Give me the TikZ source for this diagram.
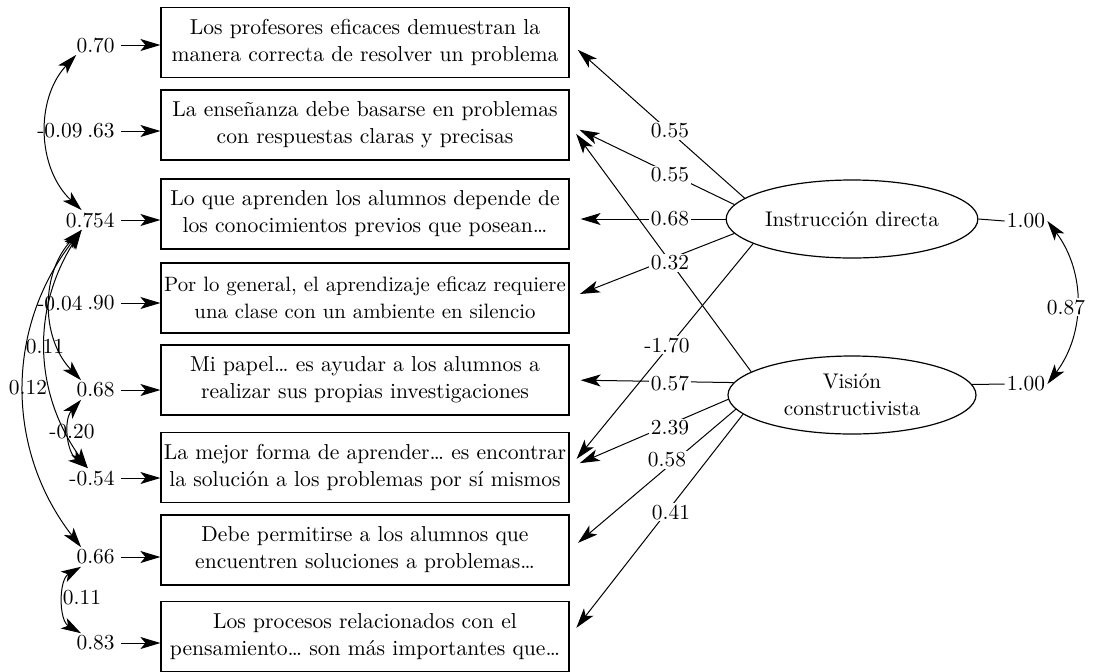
\documentclass[tikz,border=0pt]{standalone}
\usepackage{fontspec}
\usepackage{tikz}
\usetikzlibrary{
  arrows.meta,
  shapes.geometric,
  positioning
}
\tikzset{
  indic/.style={
    draw, line width=0.6pt, minimum width=204pt, minimum height=35pt,
    inner sep=1pt, align=center, font=\fontsize{10.8}{13.5}\selectfont
  },
  latent/.style={
    draw, ellipse, line width=0.6pt, minimum width=124pt, minimum height=39pt,
    inner sep=1pt, align=center, font=\fontsize{10.6}{13.5}\selectfont
  },
  errlbl/.style={font=\fontsize{10.7}{12}\selectfont, inner sep=1pt},
  coef/.style={errlbl, fill=white},
  load/.style={-{Stealth[length=10pt, width=6pt, inset=2.5pt]}, line width=0.5pt, shorten >=5.5pt},
  errarrow/.style={-{Stealth[length=10pt, width=6pt, inset=2.5pt]}, line width=0.5pt, shorten <=2pt},
  cov/.style={{Stealth[length=10pt, width=6pt, inset=2.5pt]}-{Stealth[length=10pt, width=6pt, inset=2.5pt]}, line width=0.5pt},
  varline/.style={line width=0.5pt}
}

\begin{document}
\begin{tikzpicture}[x=0.5pt, y=-0.5pt]
  \useasboundingbox (0,0) rectangle (1097,671);
  % items
  \node[indic] (b1) at (365,42.5) {Los profesores eficaces demuestran la\\manera correcta de resolver un problema};
  \node[indic] (b2) at (365,125) {La enseñanza debe basarse en problemas\\con respuestas claras y precisas};
  \node[indic] (b3) at (365,214) {Lo que aprenden los alumnos depende de\\los conocimientos previos que posean…};
  \node[indic, font=\fontsize{10.4}{13.5}\selectfont] (b4) at (365,298) {Por lo general, el aprendizaje eficaz requiere\\una clase con un ambiente en silencio};
  \node[indic] (b5) at (365,380) {Mi papel… es ayudar a los alumnos a\\realizar sus propias investigaciones};
  \node[indic] (b6) at (365,467.5) {La mejor forma de aprender… es encontrar\\la solución a los problemas por sí mismos};
  \node[indic] (b7) at (365,550) {Debe permitirse a los alumnos que\\encuentren soluciones a problemas…};
  \node[indic] (b8) at (365,636.5) {Los procesos relacionados con el\\pensamiento… son más importantes que…};
  % factors
  \node[latent] (ID) at (852,219) {Instrucción directa};
  \node[latent] (VC) at (852,395) {Visión\\constructivista};
  % error variances
  \node[errlbl, anchor=east] (e1) at (117,45) {0.70};
  \node[errlbl, anchor=east] (e2) at (117,131) {.63};
  \node[errlbl, anchor=east] (e3) at (117,220) {0.754};
  \node[errlbl, anchor=east] (e4) at (117,303) {.90};
  \node[errlbl, anchor=east] (e5) at (117,390) {0.68};
  \node[errlbl, anchor=east] (e6) at (117,478) {-0.54};
  \node[errlbl, anchor=east] (e7) at (117,557) {0.66};
  \node[errlbl, anchor=east] (e8) at (117,643) {0.83};
  \draw[errarrow] (e1) -- (e1 -| b1.west);
  \draw[errarrow] (e2) -- (e2 -| b2.west);
  \draw[errarrow] (e3) -- (e3 -| b3.west);
  \draw[errarrow] (e4) -- (e4 -| b4.west);
  \draw[errarrow] (e5) -- (e5 -| b5.west);
  \draw[errarrow] (e6) -- (e6 -| b6.west);
  \draw[errarrow] (e7) -- (e7 -| b7.west);
  \draw[errarrow] (e8) -- (e8 -| b8.west);
  % error covariances
  \node[errlbl, left=0pt of e2] (c1) {-0.09};
  \node[errlbl, left=0pt of e4] (c2) {-0.04};
  \node[errlbl] (c3) at (45,347) {0.11};
  \node[errlbl] (c4) at (28,388) {0.12};
  \node[errlbl] (c5) at (72,432) {-0.20};
  \node[errlbl] (c6) at (82,598) {0.11};
  \draw[cov] (e1.207) to[bend right=45] (e3.131);
  \draw[cov] (e3.229) to[bend right=44] (e5.146);
  \draw[cov] (e3.229) to[bend right=34] (e6.113);
  \draw[cov] (e3.229) to[bend right=38] (e7.146);
  \draw[cov] (e5.214) to[bend right=47] (e6.113);
  \draw[cov] (e7.214) to[bend right=60] (e8.146);
  % loadings
  \draw[load] (ID.169) -- (b1.east);
  \draw[load] (ID.173) -- (b2.east);
  \draw[load] (ID.west) -- (ID.west -| b3.east);
  \draw[load] (ID.187) -- (b4.east);
  \draw[load] (ID.194) -- (b6.east);
  \draw[load] (VC.167) -- (b2.east);
  \draw[load] (VC.174) -- (b5.east);
  \draw[load] (VC.182) -- (b6.east);
  \draw[load] (VC.187) -- (b7.east);
  \draw[load] (VC.190) -- (b8.east);
  \node[coef] (l1) at (670,131) {0.55};
  \node[coef] (l2) at (670,175) {0.55};
  \node[coef] (l3) at (670,219) {0.68};
  \node[coef] (l4) at (670,263) {0.32};
  \node[coef] (l5) at (667,345) {-1.70};
  \node[coef] (l6) at (670,383) {0.57};
  \node[coef] (l7) at (670,428) {2.39};
  \node[coef] (l8) at (667,460) {0.58};
  \node[coef] (l9) at (671,512) {0.41};
  % factor variances
  \node[errlbl] (v1) at (1026,221) {1.00};
  \node[errlbl] (v2) at (1026,384) {1.00};
  \draw[varline] (ID.east) -- (v1.west);
  \draw[varline] (VC.5) -- (v2.west);
  \draw[cov] (v1.east) to[bend left=37] (v2.east);
  \node[coef] (c7) at (1066,307) {0.87};
\end{tikzpicture}
\end{document}
